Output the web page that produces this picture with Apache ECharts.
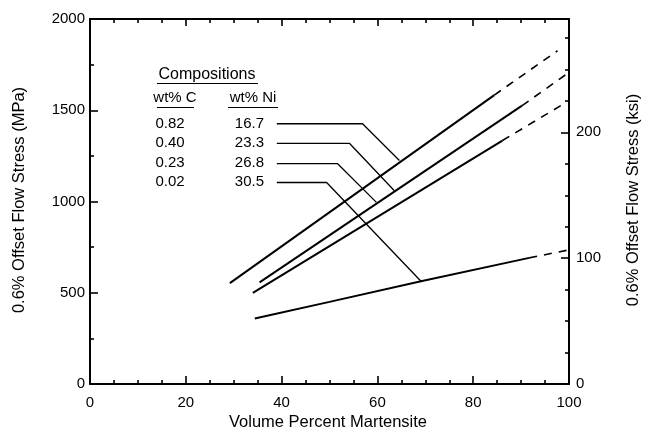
<!DOCTYPE html>
<html>
<head>
<meta charset="utf-8">
<script src="https://cdn.jsdelivr.net/npm/echarts@6/dist/echarts.min.js"></script>
<style>
  html, body { margin: 0; padding: 0; background: #fff; }
  #chart { width: 656px; height: 432px; }
</style>
</head>
<body>
<div id="chart"></div>
<script>
// Flow stress vs. volume percent martensite, four Fe-Ni-C compositions.
const wtC  = ['0.82', '0.40', '0.23', '0.02'];
const wtNi = ['16.7', '23.3', '26.8', '30.5'];

// measured curves (x = vol.% martensite, y = MPa)
const curveC082 = [[29.2, 553], [84.4, 1583]];
const curveC040 = [[35.4, 557], [90.2, 1525]];
const curveC023 = [[34.0, 499], [86.1, 1334]];
const curveC002 = [[34.4, 359], [50.0, 450], [69.1, 563], [91.7, 691]];

// extrapolated (dashed) continuations
const extraC082 = [[84.4, 1583], [97.6, 1826]];
const extraC040 = [[90.2, 1525], [99.6, 1700]];
const extraC023 = [[86.1, 1334], [99.4, 1543]];
const extraC002 = [[91.7, 691], [100.0, 735]];

// leader lines from the composition table to the curves
const leaderC082 = [[39.0, 1426], [56.9, 1426], [64.6, 1225]];
const leaderC040 = [[39.0, 1318], [54.2, 1318], [63.5, 1060]];
const leaderC023 = [[39.0, 1207], [51.7, 1207], [59.8, 995]];
const leaderC002 = [[39.0, 1104], [49.4, 1104], [69.1, 563]];

// axis ranges and tick labels
const xMin = 0, xMax = 100, xStep = 20;
const mpaMin = 0, mpaMax = 2000, mpaStep = 500;
const ksiStep = 100;
const ksiLabels = [0, 100, 200];
const MPA_PER_KSI = 6.894757;

const FONT = '"Liberation Sans", Arial, Helvetica, sans-serif';

const solid = (data) => ({
  type: 'line', data, xAxisIndex: 0, yAxisIndex: 0,
  showSymbol: false, symbol: 'none', silent: true, z: 3,
  lineStyle: { color: '#000', width: 2 }
});
const dashed = (data) => ({
  type: 'line', data, xAxisIndex: 0, yAxisIndex: 0,
  showSymbol: false, symbol: 'none', silent: true, z: 3,
  lineStyle: { color: '#000', width: 1.6, type: [8, 7] }
});
const leader = (data) => ({
  type: 'line', data, xAxisIndex: 0, yAxisIndex: 0,
  showSymbol: false, symbol: 'none', silent: true, z: 2,
  lineStyle: { color: '#000', width: 1.3 }
});

const tickStyle = { color: '#000', width: 1.6 };

const chart = echarts.init(document.getElementById('chart'), null, { renderer: 'canvas' });

const tableRows = [123.5, 143, 163, 182];
const tableText = [];
wtC.forEach((c, i) => {
  tableText.push({
    type: 'text', x: 170, y: tableRows[i],
    style: { text: c, font: '15px ' + FONT, fill: '#000', textAlign: 'center', textVerticalAlign: 'middle' }
  });
  tableText.push({
    type: 'text', x: 264, y: tableRows[i],
    style: { text: wtNi[i], font: '15px ' + FONT, fill: '#000', textAlign: 'right', textVerticalAlign: 'middle' }
  });
});

chart.setOption({
  animation: false,
  backgroundColor: '#fff',
  grid: { left: 90, right: 87, top: 19, bottom: 48, containLabel: false, outerBoundsMode: 'none' },
  xAxis: [
    {
      type: 'value', position: 'bottom', min: xMin, max: xMax, interval: xStep,
      axisLine: { show: true, onZero: false, lineStyle: { color: '#000', width: 2 } },
      axisTick: { show: true, inside: true, length: 8, lineStyle: tickStyle },
      minorTick: { show: true, splitNumber: 4, length: 4, lineStyle: tickStyle },
      splitLine: { show: false },
      axisLabel: { color: '#000', fontSize: 15, fontFamily: FONT, margin: 11, formatter: (v) => String(v) }
    },
    {
      type: 'value', position: 'top', min: xMin, max: xMax, interval: xStep,
      axisLine: { show: true, onZero: false, lineStyle: { color: '#000', width: 2 } },
      axisTick: { show: true, inside: true, length: 7, lineStyle: tickStyle },
      minorTick: { show: true, splitNumber: 4, length: 4, lineStyle: tickStyle },
      splitLine: { show: false },
      axisLabel: { show: false }
    }
  ],
  yAxis: [
    {
      type: 'value', position: 'left', min: mpaMin, max: mpaMax, interval: mpaStep,
      axisLine: { show: true, onZero: false, lineStyle: { color: '#000', width: 2 } },
      axisTick: { show: true, inside: true, length: 8, lineStyle: tickStyle },
      minorTick: { show: true, splitNumber: 2, length: 4, lineStyle: tickStyle },
      splitLine: { show: false },
      axisLabel: { color: '#000', fontSize: 15, fontFamily: FONT, margin: 5, formatter: (v) => String(v) }
    },
    {
      type: 'value', position: 'right', min: 0, max: mpaMax / MPA_PER_KSI, interval: ksiStep,
      axisLine: { show: true, onZero: false, lineStyle: { color: '#000', width: 2 } },
      axisTick: { show: true, inside: true, length: 8, lineStyle: tickStyle },
      minorTick: { show: true, splitNumber: 4, length: 4, lineStyle: tickStyle },
      splitLine: { show: false },
      axisLabel: {
        color: '#000', fontSize: 15, fontFamily: FONT, margin: 7,
        showMaxLabel: false,
        formatter: (v) => ksiLabels.includes(Math.round(v)) && Math.abs(v - Math.round(v)) < 1e-6 ? String(Math.round(v)) : ''
      }
    }
  ],
  series: [
    solid(curveC082), solid(curveC040), solid(curveC023), solid(curveC002),
    dashed(extraC082), dashed(extraC040), dashed(extraC023), dashed(extraC002),
    leader(leaderC082), leader(leaderC040), leader(leaderC023), leader(leaderC002)
  ],
  graphic: [
    // axis titles
    {
      type: 'text', x: 19, y: 200, rotation: Math.PI / 2,
      style: { text: '0.6% Offset Flow Stress (MPa)', font: '16.5px ' + FONT, fill: '#000', textAlign: 'center', textVerticalAlign: 'middle' }
    },
    {
      type: 'text', x: 633, y: 200, rotation: Math.PI / 2,
      style: { text: '0.6% Offset Flow Stress (ksi)', font: '16.5px ' + FONT, fill: '#000', textAlign: 'center', textVerticalAlign: 'middle' }
    },
    {
      type: 'text', x: 328, y: 422,
      style: { text: 'Volume Percent Martensite', font: '16.5px ' + FONT, fill: '#000', textAlign: 'center', textVerticalAlign: 'middle' }
    },
    // composition table headings
    {
      type: 'text', x: 207, y: 75,
      style: { text: 'Compositions', font: '16px ' + FONT, fill: '#000', textAlign: 'center', textVerticalAlign: 'middle' }
    },
    { type: 'line', shape: { x1: 157, y1: 83.5, x2: 258, y2: 83.5 }, style: { stroke: '#000', lineWidth: 1.2 } },
    {
      type: 'text', x: 175, y: 98,
      style: { text: 'wt% C', font: '15px ' + FONT, fill: '#000', textAlign: 'center', textVerticalAlign: 'middle' }
    },
    { type: 'line', shape: { x1: 157, y1: 107.5, x2: 194, y2: 107.5 }, style: { stroke: '#000', lineWidth: 1.2 } },
    {
      type: 'text', x: 253, y: 98,
      style: { text: 'wt% Ni', font: '15px ' + FONT, fill: '#000', textAlign: 'center', textVerticalAlign: 'middle' }
    },
    { type: 'line', shape: { x1: 228, y1: 107.5, x2: 278, y2: 107.5 }, style: { stroke: '#000', lineWidth: 1.2 } }
  ].concat(tableText)
});
</script>
</body>
</html>
